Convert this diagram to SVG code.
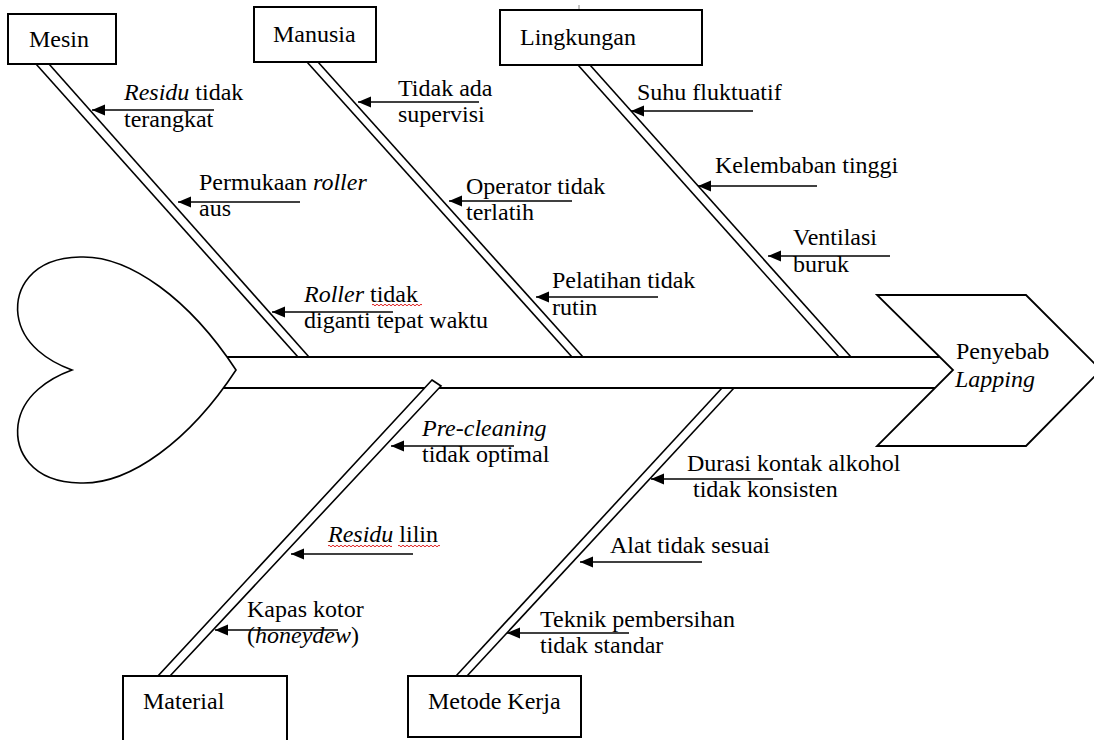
<svg xmlns="http://www.w3.org/2000/svg" width="1094" height="740" viewBox="0 0 1094 740">
<style>
.t{font-family:"Liberation Serif","Times New Roman",serif;font-size:24px;fill:#000}
.i{font-style:italic}
.box{fill:#fff;stroke:#000;stroke-width:2}
.bone{stroke:#000;stroke-width:1.6;fill:none}
.arr{stroke:#000;stroke-width:1.6;marker-end:url(#ah)}
.sp{stroke:#000;stroke-width:1.8;fill:none}
.wavy{stroke:#e02020;stroke-width:1;fill:none}
</style>
<defs>
<marker id="ah" markerUnits="userSpaceOnUse" markerWidth="14" markerHeight="12" refX="13" refY="5.5" orient="auto">
<path d="M0,0 L13,5.5 L0,11 z" fill="#000"/>
</marker>
</defs>
<rect width="1094" height="740" fill="#fff"/>
<line x1="579" y1="5" x2="579" y2="21" stroke="#888" stroke-width="1"/>

<g id="heart">
<path d="M236,370 C190,300 130,255 80,257 C30,258 15,290 18,315 C22,345 50,362 72,370 C50,378 22,395 18,425 C15,450 30,482 80,483 C130,485 190,440 236,370 Z" fill="#fff" stroke="#000" stroke-width="1.6"/>
</g>

<g id="spine">
<line class="sp" x1="227" y1="357" x2="940" y2="357"/>
<line class="sp" x1="223" y1="388" x2="935" y2="388"/>
</g>

<g id="head">
<polygon points="877,295 1026,295 1101,370 1026,446 877,446 953,370" fill="#fff" stroke="#000" stroke-width="1.8"/>
<text class="t" x="956" y="359">Penyebab</text>
<text class="t i" x="955" y="387">Lapping</text>
</g>

<g id="connectors">
<line class="bone" x1="36" y1="64" x2="298" y2="357"/>
<line class="bone" x1="49" y1="64" x2="309" y2="357"/>
<line class="bone" x1="307" y1="62" x2="572" y2="357"/>
<line class="bone" x1="318" y1="62" x2="583" y2="357"/>
<line class="bone" x1="578" y1="65" x2="839" y2="357"/>
<line class="bone" x1="590" y1="65" x2="851" y2="357"/>
<polygon points="432,380 441,386 170,676 158,676" fill="#fff" stroke="#000" stroke-width="1.6"/>
<line class="bone" x1="722" y1="388" x2="456" y2="676"/>
<line class="bone" x1="734" y1="388" x2="467" y2="676"/>

<line class="arr" x1="214" y1="110" x2="92" y2="110"/>
<line class="arr" x1="300" y1="202" x2="178" y2="202"/>
<line class="arr" x1="393" y1="312" x2="272" y2="312"/>
<line class="arr" x1="479" y1="102" x2="358" y2="102"/>
<line class="arr" x1="572" y1="201" x2="449" y2="201"/>
<line class="arr" x1="658" y1="297" x2="536" y2="297"/>
<line class="arr" x1="753" y1="111" x2="631" y2="111"/>
<line class="arr" x1="817" y1="186" x2="698" y2="186"/>
<line class="arr" x1="890" y1="256" x2="768" y2="256"/>
<line class="arr" x1="514" y1="446" x2="391" y2="446"/>
<line class="arr" x1="413" y1="554" x2="291" y2="554"/>
<line class="arr" x1="338" y1="630" x2="215" y2="630"/>
<line class="arr" x1="773" y1="479" x2="651" y2="479"/>
<line class="arr" x1="702" y1="562" x2="580" y2="562"/>
<line class="arr" x1="629" y1="633" x2="507" y2="633"/>
</g>

<g id="node-mesin">
<rect class="box" x="8" y="14" width="108" height="50"/>
<text class="t" x="29" y="47">Mesin</text>
</g>
<g id="node-manusia">
<rect class="box" x="254" y="7" width="122" height="55"/>
<text class="t" x="273" y="42">Manusia</text>
</g>
<g id="node-lingkungan">
<rect class="box" x="500" y="10" width="202" height="55"/>
<text class="t" x="520" y="45">Lingkungan</text>
</g>
<g id="node-material">
<rect class="box" x="123" y="676" width="164" height="80"/>
<text class="t" x="143" y="709">Material</text>
</g>
<g id="node-metode">
<rect class="box" x="408" y="676" width="173" height="61"/>
<text class="t" x="428" y="709">Metode Kerja</text>
</g>

<g id="causes-mesin">
<text class="t" x="124" y="100"><tspan class="i">Residu</tspan> tidak</text>
<text class="t" x="124" y="127">terangkat</text>
<text class="t" x="199" y="190">Permukaan <tspan class="i">roller</tspan></text>
<text class="t" x="199" y="216">aus</text>
<text class="t" x="304" y="302"><tspan class="i">Roller</tspan> tidak</text>
<text class="t" x="304" y="328">diganti tepat waktu</text>
<path class="wavy" d="M372,305 q1,-1.6 2,0 t2,0 t2,0 t2,0 t2,0 t2,0 t2,0 t2,0 t2,0 t2,0 t2,0 t2,0 t2,0 t2,0 t2,0 t2,0 t2,0 t2,0 t2,0 t2,0 t2,0 t2,0 t2,0 t2,0 t2,0"/>
</g>
<g id="causes-manusia">
<text class="t" x="398" y="96">Tidak ada</text>
<text class="t" x="398" y="122">supervisi</text>
<text class="t" x="466" y="194">Operator tidak</text>
<text class="t" x="466" y="220">terlatih</text>
<text class="t" x="552" y="288">Pelatihan tidak</text>
<text class="t" x="552" y="315">rutin</text>
</g>
<g id="causes-lingkungan">
<text class="t" x="637" y="100">Suhu fluktuatif</text>
<text class="t" x="715" y="173">Kelembaban tinggi</text>
<text class="t" x="793" y="245">Ventilasi</text>
<text class="t" x="793" y="272">buruk</text>
</g>
<g id="causes-material">
<text class="t i" x="422" y="436">Pre-cleaning</text>
<text class="t" x="422" y="462">tidak optimal</text>
<text class="t" x="328" y="542"><tspan class="i">Residu</tspan> lilin</text>
<path class="wavy" d="M328,546 q1,-1.6 2,0 t2,0 t2,0 t2,0 t2,0 t2,0 t2,0 t2,0 t2,0 t2,0 t2,0 t2,0 t2,0 t2,0 t2,0 t2,0 t2,0 t2,0 t2,0 t2,0 t2,0 t2,0 t2,0 t2,0 t2,0 t2,0 t2,0 t2,0 t2,0 t2,0 t2,0 t2,0"/>
<path class="wavy" d="M398,546 q1,-1.6 2,0 t2,0 t2,0 t2,0 t2,0 t2,0 t2,0 t2,0 t2,0 t2,0 t2,0 t2,0 t2,0 t2,0 t2,0 t2,0 t2,0 t2,0 t2,0 t2,0 t2,0"/>
<text class="t" x="247" y="617">Kapas kotor</text>
<text class="t" x="247" y="643">(<tspan class="i">honeydew</tspan>)</text>
</g>
<g id="causes-metode">
<text class="t" x="687" y="471">Durasi kontak alkohol</text>
<text class="t" x="693" y="497">tidak konsisten</text>
<text class="t" x="610" y="553">Alat tidak sesuai</text>
<text class="t" x="540" y="627">Teknik pembersihan</text>
<text class="t" x="540" y="653">tidak standar</text>
</g>
</svg>
